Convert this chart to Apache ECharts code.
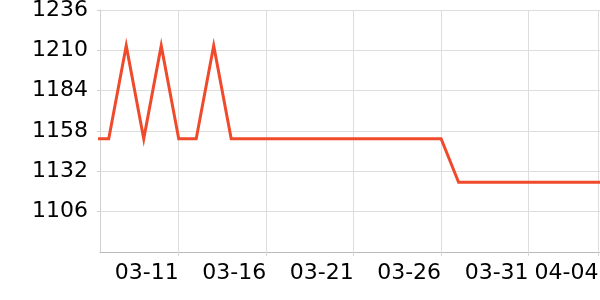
<!DOCTYPE html>
<html>
<head>
<meta charset="utf-8">
<script src="https://cdn.jsdelivr.net/npm/echarts@6/dist/echarts.min.js"></script>
<style>html,body{margin:0;padding:0;background:#fff}#c{width:600px;height:300px}</style>
</head>
<body>
<div id="c"></div>
<script>
const dates = ['2024-03-06','2024-03-07','2024-03-08','2024-03-09','2024-03-10','2024-03-11','2024-03-12','2024-03-13','2024-03-14','2024-03-15','2024-03-16','2024-03-17','2024-03-18','2024-03-19','2024-03-20','2024-03-21','2024-03-22','2024-03-23','2024-03-24','2024-03-25','2024-03-26','2024-03-27','2024-03-28','2024-03-29','2024-03-30','2024-03-31','2024-04-01','2024-04-02','2024-04-03','2024-04-04','2024-04-05'];
const values = [1153,1153,1213,1153,1213,1153,1153,1213,1153,1153,1153,1153,1153,1153,1153,1153,1153,1153,1153,1153,1153,1125,1125,1125,1125,1125,1125,1125,1125,1125,1125];
const xTicks = ['2024-03-11','2024-03-16','2024-03-21','2024-03-26','2024-03-31','2024-04-04'];
const xMin = '2024-03-06 12:00';
const xMax = '2024-04-04 02:00';
const yMin = 1080, yMax = 1236, yStep = 26;

function ts(s) {
  const m = s.match(/(\d+)-(\d+)-(\d+)(?: (\d+):(\d+))?/);
  return new Date(+m[1], +m[2] - 1, +m[3], m[4] ? +m[4] : 0, m[5] ? +m[5] : 0).getTime();
}
const pad = n => (n < 10 ? '0' : '') + n;
const tickVals = xTicks.map(ts);

const chart = echarts.init(document.getElementById('c'));
chart.setOption({
  animation: false,
  grid: { left: 100, right: 0, top: 10, bottom: 48, containLabel: false, outerBoundsMode: 'none' },
  xAxis: {
    type: 'value',
    min: ts(xMin),
    max: ts(xMax),
    axisLine: { lineStyle: { color: '#bbbbbb', width: 1 } },
    axisTick: { show: true, length: 4, customValues: tickVals, lineStyle: { color: '#d8d8d8' } },
    splitLine: { show: true, lineStyle: { color: '#dddddd', width: 1 } },
    axisLabel: {
      customValues: tickVals,
      align: 'right',
      margin: 10,
      fontSize: 22,
      fontFamily: 'DejaVu Sans',
      color: '#000',
      formatter: v => { const d = new Date(v); return pad(d.getMonth() + 1) + '-' + pad(d.getDate()); }
    }
  },
  yAxis: {
    type: 'value',
    min: yMin, max: yMax, interval: yStep,
    axisLine: { show: true, lineStyle: { color: '#d0d0d0' } },
    axisTick: { show: true, length: 3, lineStyle: { color: '#d0d0d0' } },
    splitLine: { show: true, lineStyle: { color: '#dddddd', width: 1 } },
    axisLabel: { showMinLabel: false, margin: 12, fontSize: 22, fontFamily: 'DejaVu Sans', color: '#000', formatter: v => String(v) }
  },
  series: [{
    type: 'line',
    data: dates.map((d, i) => [ts(d), values[i]]),
    showSymbol: false,
    symbol: 'none',
    clip: true,
    lineStyle: { color: '#ef4a2c', width: 3, join: 'miter' },
    itemStyle: { color: '#ef4a2c' }
  }]
});
</script>
</body>
</html>
